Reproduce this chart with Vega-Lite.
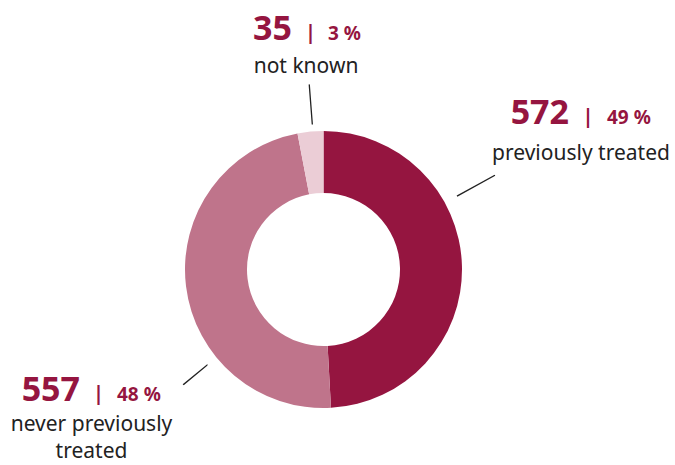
{
  "$schema": "https://vega.github.io/schema/vega-lite/v6.json",
  "width": 647,
  "height": 393,
  "autosize": {"type": "none"},
  "padding": {"left": 0, "top": 73, "right": 28, "bottom": 0},
  "background": "white",
  "config": {"view": {"stroke": null}, "font": "Noto Sans"},
  "data": {
    "values": [
      {"category": "previously treated", "label": "previously treated", "count": 572, "share": "49 %", "order": 1},
      {"category": "never previously treated", "label": "never previously\ntreated", "count": 557, "share": "48 %", "order": 2},
      {"category": "not known", "label": "not known", "count": 35, "share": "3 %", "order": 3}
    ]
  },
  "transform": [
    {"stack": "count", "groupby": [], "offset": "normalize", "sort": [{"field": "order", "order": "ascending"}], "as": ["t0", "t1"]}
  ],
  "layer": [
    {
      "mark": {"type": "arc", "radius": 138.5, "radius2": 76.5},
      "encoding": {
        "theta": {"field": "t0", "type": "quantitative", "stack": null, "scale": {"domain": [0, 1], "nice": false, "zero": true}},
        "theta2": {"field": "t1"},
        "color": {
          "field": "category", "type": "nominal", "legend": null,
          "scale": {"domain": ["previously treated", "never previously treated", "not known"], "range": ["#951540", "#bf748b", "#ebcdd6"]}
        }
      }
    },
    {
      "transform": [{"filter": "datum.category === 'previously treated'"}],
      "mark": {"type": "arc", "radius": 195, "radius2": 153, "thetaOffset": 1.06814, "theta2Offset": -2.0195, "fillOpacity": 0, "stroke": "#222222", "strokeWidth": 1.3},
      "encoding": {"theta": {"field": "t0", "type": "quantitative", "stack": null}, "theta2": {"field": "t1"}}
    },
    {
      "transform": [{"filter": "datum.category === 'not known'"}],
      "mark": {"type": "arc", "radius": 185, "radius2": 146, "thetaOffset": 0.11204, "theta2Offset": -0.07686, "fillOpacity": 0, "stroke": "#222222", "strokeWidth": 1.3},
      "encoding": {"theta": {"field": "t0", "type": "quantitative", "stack": null}, "theta2": {"field": "t1"}}
    },
    {
      "transform": [{"filter": "datum.category === 'never previously treated'"}],
      "mark": {"type": "arc", "radius": 181, "radius2": 151, "thetaOffset": 0.9371, "theta2Offset": -2.06955, "fillOpacity": 0, "stroke": "#222222", "strokeWidth": 1.3},
      "encoding": {"theta": {"field": "t0", "type": "quantitative", "stack": null}, "theta2": {"field": "t1"}}
    },
    {
      "transform": [{"filter": "datum.category === 'previously treated'"}],
      "mark": {"type": "text", "radius": 150, "dx": 245.5, "dy": 4, "align": "right", "baseline": "alphabetic", "fontSize": 34, "fontWeight": "bold", "color": "#951540"},
      "encoding": {"theta": {"field": "t0", "type": "quantitative", "stack": null}, "text": {"field": "count", "type": "quantitative", "format": "d"}}
    },
    {
      "transform": [{"filter": "datum.category === 'previously treated'"}],
      "mark": {"type": "text", "radius": 150, "dx": 264.5, "dy": 3, "align": "center", "baseline": "alphabetic", "fontSize": 20, "fontWeight": "bold", "color": "#951540", "text": "|"},
      "encoding": {"theta": {"field": "t0", "type": "quantitative", "stack": null}}
    },
    {
      "transform": [{"filter": "datum.category === 'previously treated'"}],
      "mark": {"type": "text", "radius": 150, "dx": 283.5, "dy": 4, "align": "left", "baseline": "alphabetic", "fontSize": 19, "fontWeight": "bold", "color": "#951540"},
      "encoding": {"theta": {"field": "t0", "type": "quantitative", "stack": null}, "text": {"field": "share", "type": "nominal"}}
    },
    {
      "transform": [{"filter": "datum.category === 'previously treated'"}],
      "mark": {"type": "text", "radius": 150, "dx": 257.5, "dy": 40, "align": "center", "baseline": "alphabetic", "fontSize": 21, "color": "#222222", "lineBreak": "\n", "lineHeight": 27},
      "encoding": {"theta": {"field": "t0", "type": "quantitative", "stack": null}, "text": {"field": "label", "type": "nominal"}}
    },
    {
      "transform": [{"filter": "datum.category === 'not known'"}],
      "mark": {"type": "text", "radius": 150, "dx": -3.3, "dy": -82.2, "align": "right", "baseline": "alphabetic", "fontSize": 34, "fontWeight": "bold", "color": "#951540"},
      "encoding": {"theta": {"field": "t0", "type": "quantitative", "stack": null}, "text": {"field": "count", "type": "quantitative", "format": "d"}}
    },
    {
      "transform": [{"filter": "datum.category === 'not known'"}],
      "mark": {"type": "text", "radius": 150, "dx": 15.2, "dy": -83.2, "align": "center", "baseline": "alphabetic", "fontSize": 20, "fontWeight": "bold", "color": "#951540", "text": "|"},
      "encoding": {"theta": {"field": "t0", "type": "quantitative", "stack": null}}
    },
    {
      "transform": [{"filter": "datum.category === 'not known'"}],
      "mark": {"type": "text", "radius": 150, "dx": 32.7, "dy": -82.2, "align": "left", "baseline": "alphabetic", "fontSize": 19, "fontWeight": "bold", "color": "#951540"},
      "encoding": {"theta": {"field": "t0", "type": "quantitative", "stack": null}, "text": {"field": "share", "type": "nominal"}}
    },
    {
      "transform": [{"filter": "datum.category === 'not known'"}],
      "mark": {"type": "text", "radius": 150, "dx": 10.7, "dy": -49.2, "align": "center", "baseline": "alphabetic", "fontSize": 21, "color": "#222222", "lineBreak": "\n", "lineHeight": 27},
      "encoding": {"theta": {"field": "t0", "type": "quantitative", "stack": null}, "text": {"field": "label", "type": "nominal"}}
    },
    {
      "transform": [{"filter": "datum.category === 'never previously treated'"}],
      "mark": {"type": "text", "radius": 150, "dx": -251.6, "dy": -18.3, "align": "right", "baseline": "alphabetic", "fontSize": 34, "fontWeight": "bold", "color": "#951540"},
      "encoding": {"theta": {"field": "t0", "type": "quantitative", "stack": null}, "text": {"field": "count", "type": "quantitative", "format": "d"}}
    },
    {
      "transform": [{"filter": "datum.category === 'never previously treated'"}],
      "mark": {"type": "text", "radius": 150, "dx": -233.1, "dy": -19.3, "align": "center", "baseline": "alphabetic", "fontSize": 20, "fontWeight": "bold", "color": "#951540", "text": "|"},
      "encoding": {"theta": {"field": "t0", "type": "quantitative", "stack": null}}
    },
    {
      "transform": [{"filter": "datum.category === 'never previously treated'"}],
      "mark": {"type": "text", "radius": 150, "dx": -214.6, "dy": -18.3, "align": "left", "baseline": "alphabetic", "fontSize": 19, "fontWeight": "bold", "color": "#951540"},
      "encoding": {"theta": {"field": "t0", "type": "quantitative", "stack": null}, "text": {"field": "share", "type": "nominal"}}
    },
    {
      "transform": [{"filter": "datum.category === 'never previously treated'"}],
      "mark": {"type": "text", "radius": 150, "dx": -240.1, "dy": 11.7, "align": "center", "baseline": "alphabetic", "fontSize": 21, "color": "#222222", "lineBreak": "\n", "lineHeight": 27},
      "encoding": {"theta": {"field": "t0", "type": "quantitative", "stack": null}, "text": {"field": "label", "type": "nominal"}}
    }
  ]
}
